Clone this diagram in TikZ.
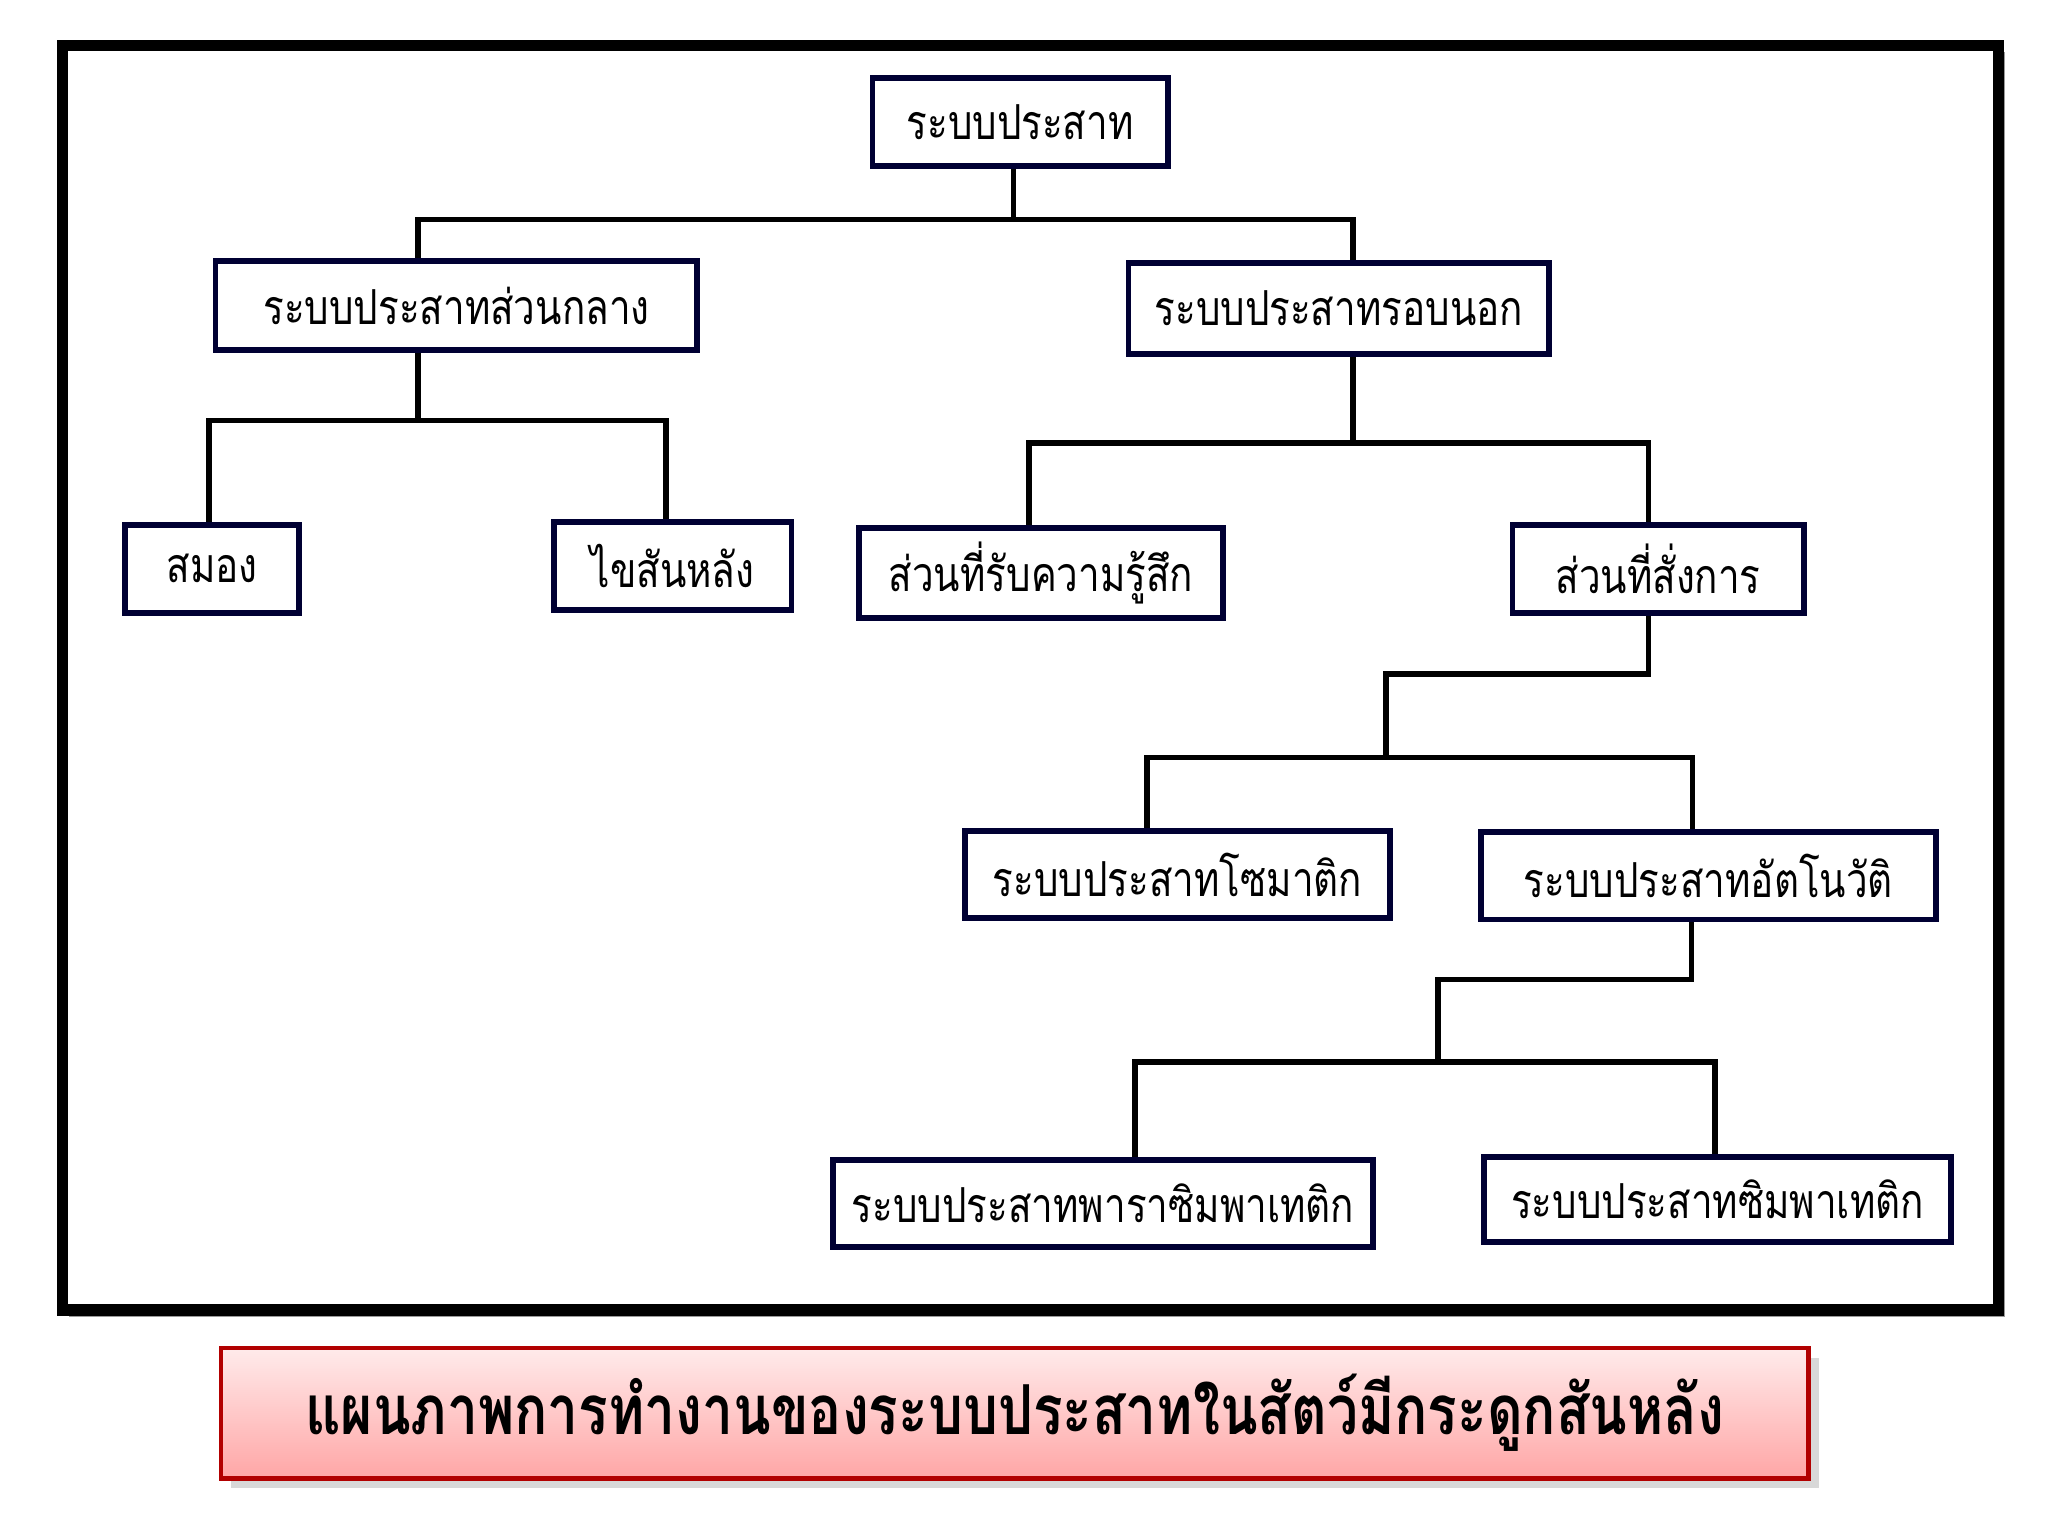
\documentclass[tikz,border=0pt]{standalone}
\usepackage{fontspec}
\newfontfamily\thaifont[Script=Thai,FakeStretch=0.8]{Loma}
\usetikzlibrary{calc,shadows}
\begin{document}
\begin{tikzpicture}[x=0.01cm,y=-0.01cm,
  bx/.style={draw=black!80!blue,line width=1.3pt,fill=white,inner sep=0,font=\thaifont\fontsize{10.5}{13}\selectfont},
  ln/.style={line width=1.2pt,black}]
\useasboundingbox (0,0) rectangle (1568,1176);
\fill[white] (0,0) rectangle (1568,1176);
\fill[black!40] (53,40) rectangle (1535,1008);
\draw[line width=2.5pt,fill=white] (48,35) rectangle (1530,1003);
\newcommand{\bxn}[6]{\node[bx,minimum width={(#4-#2)*0.01cm},minimum height={(#5-#3)*0.01cm}] (#1) at ({(#2+#4)/2},{(#3+#5)/2}) {#6};}
\bxn{root}{668}{60}{894}{127}{ระบบประสาท}
\bxn{cns}{165}{200}{534}{268}{ระบบประสาทส่วนกลาง}
\bxn{pns}{864}{201}{1186}{271}{ระบบประสาทรอบนอก}
\bxn{brain}{96}{402}{229}{469}{สมอง}
\bxn{spine}{424}{400}{606}{467}{ไขสันหลัง}
\bxn{sens}{658}{404}{936}{473}{ส่วนที่รับความรู้สึก}
\bxn{motor}{1158}{402}{1381}{469}{ส่วนที่สั่งการ}
\bxn{soma}{739}{636}{1064}{703}{ระบบประสาทโซมาติก}
\bxn{auto}{1134}{637}{1482}{704}{ระบบประสาทอัตโนวัติ}
\bxn{para}{638}{888}{1051}{955}{ระบบประสาทพาราซิมพาเทติก}
\bxn{symp}{1136}{886}{1494}{951}{ระบบประสาทซิมพาเทติก}
% connectors
\draw[ln] (root.south -| 776,0) -- (776,168);
\draw[ln] (cns.north -| 320,0) |- (776,168) -| (pns.north -| 1036,0);
\draw[ln] (cns.south -| 320,0) -- (320,322);
\draw[ln] (brain.north -| 160,0) |- (320,322) -| (spine.north -| 510,0);
\draw[ln] (pns.south -| 1036,0) -- (1036,339);
\draw[ln] (sens.north -| 788,0) |- (1036,339) -| (motor.north -| 1262,0);
\draw[ln] (motor.south -| 1262,0) |- (1061,516) -- (1061,580);
\draw[ln] (soma.north -| 878,0) |- (1061,580) -| (auto.north -| 1296,0);
\draw[ln] (auto.south -| 1295,0) |- (1101,750) -- (1101,813);
\draw[ln] (para.north -| 869,0) |- (1101,813) -| (symp.north -| 1313,0);
% caption
\node[draw=red!70!black,line width=1pt,top color=red!8,bottom color=red!35,
  minimum width=12.15cm,minimum height=1cm,drop shadow={opacity=0.3},
  font=\thaifont\bfseries\fontsize{15}{18}\selectfont] (cap) at (777,1082) {แผนภาพการทำงานของระบบประสาทในสัตว์มีกระดูกสันหลัง};
\end{tikzpicture}
\end{document}
